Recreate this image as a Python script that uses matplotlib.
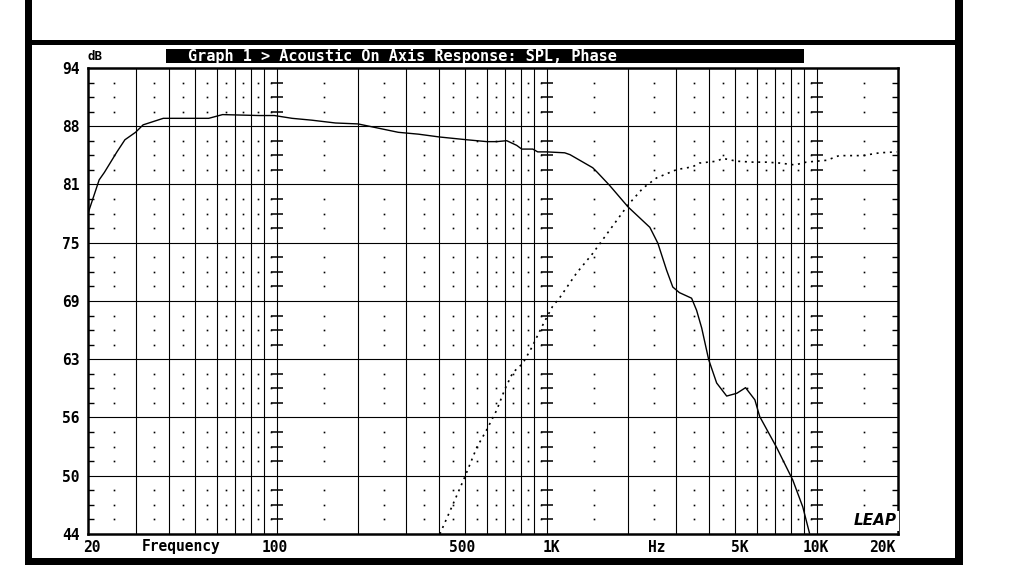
# -*- coding: utf-8 -*-
import numpy as np
import matplotlib
matplotlib.use('Agg')
import matplotlib.pyplot as plt
from matplotlib.patches import Rectangle
from matplotlib.ticker import NullLocator

#%% data

spl_freq = [20, 22, 23, 25.6, 27.4, 30, 32, 38, 56, 63, 86, 98, 114, 135, 165,
            200, 233, 282, 335, 400, 506, 600, 653, 711, 774, 808, 888, 926,
            1000, 1166, 1220, 1480, 1540, 1710, 2000, 2410, 2580, 2780, 2930,
            3100, 3440, 3590, 3750, 3980, 4260, 4640, 5060, 5450, 5900, 6150,
            7100, 8150, 8880, 9400]
spl_db = [78.4, 82.0, 82.8, 85.0, 86.3, 87.1, 87.9, 88.6, 88.6, 89.0, 88.9,
          88.9, 88.6, 88.4, 88.1, 88.0, 87.6, 87.1, 86.9, 86.6, 86.3, 86.1,
          86.1, 86.2, 85.7, 85.3, 85.3, 85.0, 85.0, 84.9, 84.7, 83.3, 82.8,
          81.4, 79.1, 76.9, 75.2, 72.3, 70.5, 69.9, 69.3, 68.0, 66.1, 62.7,
          60.2, 58.8, 59.1, 59.7, 58.4, 56.6, 53.3, 49.8, 46.9, 44.1]

ph_freq = [402, 445, 497, 551, 600, 653, 699, 748, 815, 880, 918, 966, 1050,
           1120, 1290, 1480, 1710, 2000, 2270, 2550, 3030, 3470, 3680, 4260,
           4490, 5060, 5800, 6500, 7300, 8300, 9150, 10900, 12100, 14800,
           17100, 19800]
ph_db = [44.0, 46.9, 50.1, 53.3, 55.2, 57.3, 59.5, 61.3, 62.3, 64.0, 65.1,
         66.4, 68.4, 69.4, 72.0, 74.1, 76.6, 79.3, 81.1, 82.2, 83.1, 83.4,
         83.8, 84.0, 84.3, 84.0, 83.9, 83.9, 83.8, 83.6, 83.9, 84.1, 84.6,
         84.6, 84.9, 85.0]

y_labels = ['44', '50', '56', '63', '69', '75', '81', '88', '94']
x_labels = ['20', '100', '500', '1K', '5K', '10K', '20K']
x_label_pos = [20, 100, 500, 1000, 5000, 10000, 20000]
x_label_shift = [4, -2, -3, 5, 4, -1, -16]   # px, labels nudged like the original

title = 'Graph 1 > Acoustic On Axis Response: SPL, Phase'

#%% figure

W, H = 1009, 577
MONO = 'DejaVu Sans Mono'

def box(x0, y0, x1, y1):
    # pixel box (top-left origin) -> figure fraction rectangle
    return (x0 / W, 1 - y1 / H), (x1 - x0) / W, (y1 - y0) / H

fig = plt.figure(figsize=(W / 100, H / 100), dpi=100)
fig.patch.set_facecolor('white')

# outer frame of the screen dump
for x0, y0, x1, y1 in [(25, 0, 32, 565), (25, 40, 963, 45),
                       (955, 0, 963, 565), (25, 558, 963, 565)]:
    xy, w, h = box(x0, y0, x1, y1)
    fig.add_artist(Rectangle(xy, w, h, transform=fig.transFigure,
                             color='k', lw=0))

# title bar
xy, w, h = box(166, 49, 804, 63)
fig.add_artist(Rectangle(xy, w, h, transform=fig.transFigure, color='k', lw=0))
fig.text(188 / W, 1 - 56 / H, title, color='white', family=MONO,
         fontweight='bold', fontsize=11, ha='left', va='center')

ax = fig.add_axes([88 / W, 1 - 534 / H, (898 - 88) / W, (534 - 68) / H])
ax.set_xscale('log')
ax.set_xlim(20, 20000)
ax.set_ylim(44, 94)

major = np.linspace(44, 94, 9)
minor = np.array([m + 6.25 * j / 4 for m in major[:-1] for j in (1, 2, 3)])

# grid: solid lines at 1..9 x decade, dotted rows in between
vlines = [k * 10**d for d in (1, 2, 3, 4) for k in range(1, 10)
          if 20 < k * 10**d < 20000]
for f in vlines:
    ax.axvline(f, color='k', lw=0.8, zorder=1)
for y in major[1:-1]:
    ax.axhline(y, color='k', lw=0.8, zorder=1)

dot_x = [(k + 0.5) * 10**d for d in (1, 2, 3, 4) for k in range(1, 10)
         if 20 < (k + 0.5) * 10**d < 20000]
dx, dy = np.meshgrid(dot_x, minor)
ax.plot(dx.ravel(), dy.ravel(), 's', color='k', ms=1.2, mew=0, zorder=1)

# little cross marks on the decade lines
for f in (100, 1000, 10000):
    ax.plot([f] * len(minor), minor, '_', color='k', ms=9, mew=1.1, zorder=1)

# curves
ax.plot(spl_freq, spl_db, color='k', lw=1.0, zorder=3)
ax.plot(ph_freq, ph_db, color='k', lw=1.2, ls=(0, (1.2, 2.8)), zorder=3)

for s in ax.spines.values():
    s.set_linewidth(1.8)

ax.xaxis.set_major_locator(NullLocator())
ax.xaxis.set_minor_locator(NullLocator())
ax.set_yticks(major)
ax.set_yticklabels(y_labels, family=MONO, fontweight='bold', fontsize=10.5)
ax.set_yticks(minor, minor=True)
ax.tick_params(axis='y', which='major', length=0, pad=6)
ax.tick_params(axis='y', which='minor', direction='in', length=4, width=1,
               left=True, right=True)

for lab, f, sh in zip(x_labels, x_label_pos, x_label_shift):
    ax.annotate(lab, xy=(f, 0), xycoords=('data', 'axes fraction'),
                xytext=(sh * 0.72, -9.5), textcoords='offset points',
                ha='center', va='center', family=MONO, fontweight='bold',
                fontsize=10.5, annotation_clip=False)

fig.text(181 / W, 1 - 547 / H, 'Frequency', family=MONO, fontweight='bold',
         fontsize=10.5, ha='center', va='center')
fig.text(657 / W, 1 - 547 / H, 'Hz', family=MONO, fontweight='bold',
         fontsize=10.5, ha='center', va='center')
fig.text(95 / W, 1 - 56 / H, 'dB', family=MONO, fontweight='bold',
         fontsize=9, ha='center', va='center')

# LEAP logo in the corner
ax.text(0.998, 0.012, 'LEAP', transform=ax.transAxes, ha='right',
        va='bottom', fontsize=11, fontweight='bold', style='italic',
        zorder=5, bbox=dict(facecolor='white', edgecolor='none', pad=1.5))

fig.savefig('out.png', dpi=100)
